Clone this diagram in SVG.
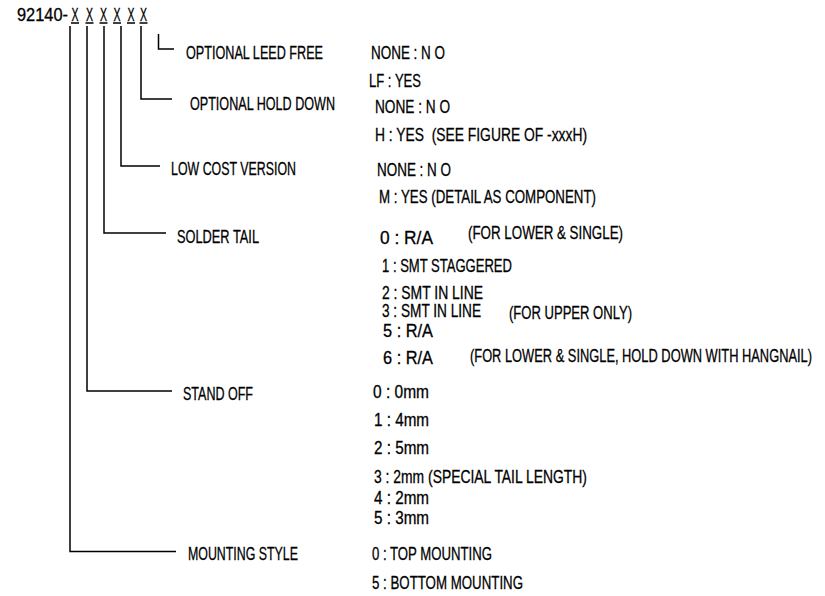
<svg xmlns="http://www.w3.org/2000/svg" width="825" height="596" viewBox="0 0 825 596">
<style>
text{font-family:"Liberation Sans",Arial,sans-serif;font-size:18.5px;fill:#000;stroke:#000;stroke-width:0.3;white-space:pre}
.t{font-size:17.5px}
.c{fill:none;stroke:#000;stroke-width:1.5}
.u{stroke:#000;stroke-width:1.3}
</style>
<rect width="825" height="596" fill="#fff"/>
<g id="title">
<text class="t" x="17" y="20.5" textLength="51" lengthAdjust="spacingAndGlyphs">92140-</text>
<text class="t" x="71.5" y="20.5" textLength="7" lengthAdjust="spacingAndGlyphs">X</text>
<text class="t" x="86" y="20.5" textLength="7" lengthAdjust="spacingAndGlyphs">X</text>
<text class="t" x="100" y="20.5" textLength="7" lengthAdjust="spacingAndGlyphs">X</text>
<text class="t" x="113.5" y="20.5" textLength="7" lengthAdjust="spacingAndGlyphs">X</text>
<text class="t" x="127.5" y="20.5" textLength="7" lengthAdjust="spacingAndGlyphs">X</text>
<text class="t" x="140" y="20.5" textLength="7" lengthAdjust="spacingAndGlyphs">X</text>
<path class="u" d="M71 23h8M85.5 23h8M99.5 23h8M113 23h8M127 23h8M139.5 23h8"/>
</g>
<g id="connectors">
<path class="c" d="M158.5 34V49H174"/>
<path class="c" d="M141 26V99H172"/>
<path class="c" d="M121 26V166H160"/>
<path class="c" d="M104 26V233H166"/>
<path class="c" d="M87 26V391H172"/>
<path class="c" d="M70 26V551.5H176"/>
</g>
<g id="lead-free">
<text x="186" y="58.5" textLength="137" lengthAdjust="spacingAndGlyphs">OPTIONAL LEED FREE</text>
<text x="371" y="59" textLength="74" lengthAdjust="spacingAndGlyphs">NONE : N O</text>
<text x="369" y="87" textLength="52" lengthAdjust="spacingAndGlyphs">LF : YES</text>
</g>
<g id="hold-down">
<text x="190" y="110" textLength="145" lengthAdjust="spacingAndGlyphs">OPTIONAL HOLD DOWN</text>
<text x="375" y="113" textLength="75" lengthAdjust="spacingAndGlyphs">NONE : N O</text>
<text x="375" y="141" textLength="212" lengthAdjust="spacingAndGlyphs">H : YES  (SEE FIGURE OF -xxxH)</text>
</g>
<g id="low-cost">
<text x="171" y="175" textLength="125" lengthAdjust="spacingAndGlyphs">LOW COST VERSION</text>
<text x="377" y="175.5" textLength="74" lengthAdjust="spacingAndGlyphs">NONE : N O</text>
<text x="379" y="203" textLength="217" lengthAdjust="spacingAndGlyphs">M : YES (DETAIL AS COMPONENT)</text>
</g>
<g id="solder-tail">
<text x="177" y="243" textLength="82" lengthAdjust="spacingAndGlyphs">SOLDER TAIL</text>
<text x="380" y="243.5" textLength="53" lengthAdjust="spacingAndGlyphs">0 : R/A</text>
<text x="468" y="239" textLength="155" lengthAdjust="spacingAndGlyphs">(FOR LOWER &amp; SINGLE)</text>
<text x="382" y="271.5" textLength="130" lengthAdjust="spacingAndGlyphs">1 : SMT STAGGERED</text>
<text x="382" y="298.5" textLength="101" lengthAdjust="spacingAndGlyphs">2 : SMT IN LINE</text>
<text x="382" y="317" textLength="99" lengthAdjust="spacingAndGlyphs">3 : SMT IN LINE</text>
<text x="509" y="318.5" textLength="123" lengthAdjust="spacingAndGlyphs">(FOR UPPER ONLY)</text>
<text x="383" y="337" textLength="50" lengthAdjust="spacingAndGlyphs">5 : R/A</text>
<text x="383" y="364" textLength="50" lengthAdjust="spacingAndGlyphs">6 : R/A</text>
<text x="470" y="361.5" textLength="342" lengthAdjust="spacingAndGlyphs">(FOR LOWER &amp; SINGLE, HOLD DOWN WITH HANGNAIL)</text>
</g>
<g id="stand-off">
<text x="183" y="400" textLength="70" lengthAdjust="spacingAndGlyphs">STAND OFF</text>
<text x="373" y="397.5" textLength="56" lengthAdjust="spacingAndGlyphs">0 : 0mm</text>
<text x="374" y="425.5" textLength="55" lengthAdjust="spacingAndGlyphs">1 : 4mm</text>
<text x="374" y="453.5" textLength="55" lengthAdjust="spacingAndGlyphs">2 : 5mm</text>
<text x="374" y="482.5" textLength="213" lengthAdjust="spacingAndGlyphs">3 : 2mm (SPECIAL TAIL LENGTH)</text>
<text x="374" y="503.5" textLength="55" lengthAdjust="spacingAndGlyphs">4 : 2mm</text>
<text x="374" y="523.5" textLength="55" lengthAdjust="spacingAndGlyphs">5 : 3mm</text>
</g>
<g id="mounting-style">
<text x="188" y="560" textLength="110" lengthAdjust="spacingAndGlyphs">MOUNTING STYLE</text>
<text x="372" y="559.5" textLength="120" lengthAdjust="spacingAndGlyphs">0 : TOP MOUNTING</text>
<text x="372" y="588.5" textLength="151" lengthAdjust="spacingAndGlyphs">5 : BOTTOM MOUNTING</text>
</g>
</svg>
